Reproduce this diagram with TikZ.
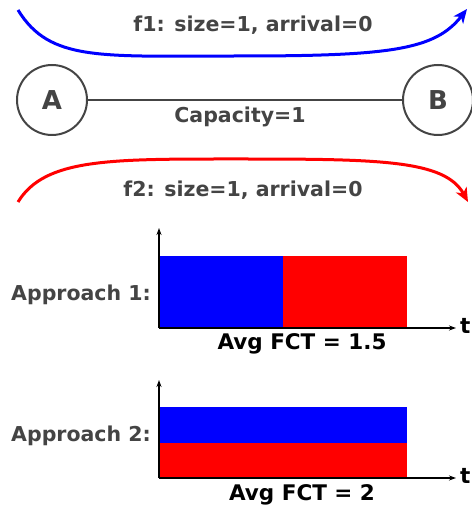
\documentclass[tikz,border=0pt]{standalone}
\usepackage{fontspec}
\setmainfont{DejaVu Sans}
\usetikzlibrary{arrows.meta}
\definecolor{txtgray}{HTML}{444444}
\definecolor{fblue}{HTML}{0000FF}
\definecolor{fred}{HTML}{FF0000}
\tikzset{
  lbl/.style={text=txtgray, font=\bfseries\fontsize{20.5}{24}\selectfont, inner sep=0pt},
  fct/.style={text=black, font=\bfseries\fontsize{21.5}{25}\selectfont, inner sep=0pt},
  hostnode/.style={circle, draw=txtgray, line width=2pt, minimum size=70pt, inner sep=0pt, text=txtgray, font=\bfseries\fontsize{26}{30}\selectfont},
  flow/.style={line width=3pt, -{Stealth[length=14pt,width=12pt,inset=4pt]}},
  axis/.style={line width=1.2pt, black, -{Stealth[length=7pt,width=5pt]}},
}
\begin{document}
\begin{tikzpicture}[x=1pt,y=-1pt]
\useasboundingbox (0,0) rectangle (471,510);
% flows
\coordinate (b0) at (18,10);
\coordinate (b1) at (240,56);
\coordinate (b2) at (467,9);
\draw[flow, fblue] (b0) .. controls (50,62) and (100,56) .. (b1) .. controls (390,56) and (435,50) .. (b2);
\node[lbl] (f1) at (253,25) {f1: size=1, arrival=0};

\node[hostnode] (A) at (52,100) {A};
\node[hostnode] (B) at (438,100) {B};
\draw[txtgray, line width=2pt] (A) -- (B);
\node[lbl] (cap) at (240,117) {Capacity=1};

\coordinate (r0) at (18,202);
\coordinate (r1) at (240,159);
\coordinate (r2) at (468,202);
\draw[flow, fred] (r0) .. controls (45,158) and (110,159) .. (r1) .. controls (380,159) and (445,160) .. (r2);
\node[lbl] (f2) at (243,190) {f2: size=1, arrival=0};

% chart 1
\fill[fblue] (159,256) rectangle (283,328);
\fill[fred] (283,256) rectangle (407,328);
\coordinate (o1) at (159,328);
\coordinate (y1) at (159,228);
\coordinate (x1) at (456,328);
\draw[axis] (o1) -- (y1);
\draw[axis] (o1) -- (x1);
\node[fct, anchor=west] (t1) at (460,326) {t};
\node[lbl, anchor=east] (ap1) at (151,295) {Approach 1:};
\node[fct] (avg1) at (302,344) {Avg FCT = 1.5};

% chart 2
\fill[fblue] (159,407) rectangle (407,443);
\fill[fred] (159,443) rectangle (407,478);
\coordinate (o2) at (159,478);
\coordinate (y2) at (159,380);
\coordinate (x2) at (456,478);
\draw[axis] (o2) -- (y2);
\draw[axis] (o2) -- (x2);
\node[fct, anchor=west] (t2) at (460,476) {t};
\node[lbl, anchor=east] (ap2) at (151,436) {Approach 2:};
\node[fct] (avg2) at (302,495) {Avg FCT = 2};
\end{tikzpicture}
\end{document}
